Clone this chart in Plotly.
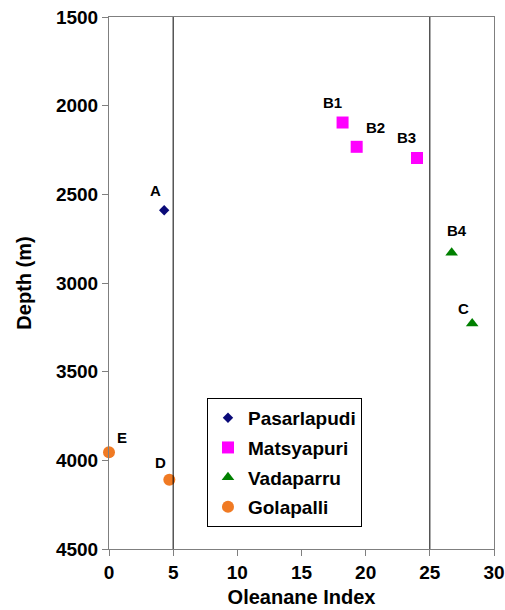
import plotly.graph_objects as go

# Oleanane index vs depth for four wells
pas_x = [4.3]
pas_y = [2590]
pas_lbl = ["A"]

mat_x = [18.2, 19.3, 24.0]
mat_y = [2095, 2232, 2295]
mat_lbl = ["B1", "B2", "B3"]

vad_x = [26.7, 28.3]
vad_y = [2830, 3228]
vad_lbl = ["B4", "C"]

gol_x = [0.0, 4.7]
gol_y = [3955, 4110]
gol_lbl = ["E", "D"]

boundaries = [5, 25]

FONT = "Liberation Sans, Arial, sans-serif"

series = [
    ("Pasarlapudi", pas_x, pas_y, "diamond", "#0a0a78", 8),
    ("Matsyapuri", mat_x, mat_y, "square", "#ff00ff", 12),
    ("Vadaparru", vad_x, vad_y, "triangle-up", "#008000", 11),
    ("Golapalli", gol_x, gol_y, "circle", "#f07a23", 12),
]

fig = go.Figure()
for name, xs, ys, sym, col, sz in series:
    fig.add_trace(go.Scatter(
        x=xs, y=ys, mode="markers", name=name, legendgroup=name,
        cliponaxis=False,
        marker=dict(symbol=sym, color=col, size=sz, line=dict(width=0)),
    ))

# point labels with pixel offsets
label_offsets = {
    "A": (-9, 20), "B1": (-10, 20), "B2": (19, 19), "B3": (-11, 20),
    "B4": (5, 22), "C": (-9, 15), "E": (13, 15), "D": (-9, 17),
}
for xs, ys, lbls in [(pas_x, pas_y, pas_lbl), (mat_x, mat_y, mat_lbl),
                     (vad_x, vad_y, vad_lbl), (gol_x, gol_y, gol_lbl)]:
    for x, y, t in zip(xs, ys, lbls):
        dx, dy = label_offsets[t]
        fig.add_annotation(x=x, y=y, text=t, showarrow=False,
                           xshift=dx, yshift=dy,
                           font=dict(family=FONT, size=15, color="black", weight="bold"))

for b in boundaries:
    fig.add_shape(type="line", x0=b, x1=b, y0=0, y1=1, xref="x", yref="paper",
                  line=dict(color="black", width=1))

axis_common = dict(
    showgrid=False, zeroline=False, showline=True, linecolor="#7f7f7f",
    linewidth=1, mirror=True, ticks="outside", ticklen=6, tickcolor="#7f7f7f",
    automargin=False,
    tickfont=dict(family=FONT, size=19, color="black", weight="bold"),
)

fig.update_xaxes(range=[0, 30], dtick=5, tick0=0,
                 title=dict(text="Oleanane Index", standoff=8,
                            font=dict(family=FONT, size=20, color="black", weight="bold")),
                 **axis_common)
fig.update_yaxes(range=[4500, 1500], dtick=500, tick0=1500,
                 title=dict(text="Depth (m)", standoff=18,
                            font=dict(family=FONT, size=20, color="black", weight="bold")),
                 **axis_common)

fig.update_layout(
    width=505, height=610,
    margin=dict(l=109, r=11, t=17, b=61),
    plot_bgcolor="white", paper_bgcolor="white",
    legend=dict(x=0.2545, y=0.284, xanchor="left", yanchor="top",
                bordercolor="black", borderwidth=1, bgcolor="white",
                font=dict(family=FONT, size=19, color="black", weight="bold"),
                tracegroupgap=2, itemwidth=30),
)

fig.write_html("out.html")
